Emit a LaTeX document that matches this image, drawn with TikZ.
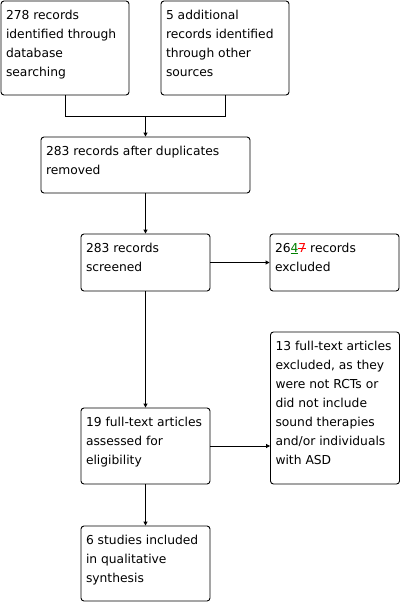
\documentclass[tikz,border=0pt]{standalone}
\usepackage{fontspec}
\setmainfont{DejaVu Sans}
\usetikzlibrary{arrows.meta}
\definecolor{insgreen}{RGB}{0,128,0}
\definecolor{delred}{RGB}{255,0,0}
\newcommand{\bxtext}[3]{\parbox[c][#2][t]{#1}{\raggedright\fontsize{12.3pt}{19pt}\selectfont\rule{0pt}{18pt}#3}}
\newcommand{\strk}[1]{\sbox0{#1}\rlap{#1}\rule[0.38\ht0]{\wd0}{0.7pt}}
\begin{document}
\begin{tikzpicture}[x=1pt,y=-1pt,
  box/.style={draw=black,line width=0.9pt,rounded corners=3pt,inner xsep=5pt,inner ysep=0pt,fill=white},
  conn/.style={draw=black,line width=0.9pt},
  arr/.style={conn,-{Triangle[length=4pt,width=4pt]}}]
\useasboundingbox (0,0) rectangle (400,602);
\fill[white] (0,0) rectangle (400,602);
\node[box] (b1) at (65,48) {\bxtext{118pt}{94pt}{278 records\\identified through\\database\\searching}};
\node[box] (b2) at (225,48) {\bxtext{118pt}{94pt}{5 additional\\records identified\\through other\\sources}};
\node[box] (b3) at (145.5,165) {\bxtext{199pt}{56pt}{283 records after duplicates\\removed}};
\node[box] (b4) at (145.5,262.5) {\bxtext{119pt}{57pt}{283 records\\screened}};
\node[box] (b5) at (334.5,262.5) {\bxtext{119pt}{57pt}{26\textcolor{insgreen}{\underline{4}}\textcolor{delred}{\strk{7}} records\\excluded}};
\node[box] (b6) at (145.5,446) {\bxtext{119pt}{76pt}{19 full-text articles\\assessed for\\eligibility}};
\node[box] (b7) at (335,408) {\bxtext{119pt}{152pt}{13 full-text articles\\excluded, as they\\were not RCTs or\\did not include\\sound therapies\\and/or individuals\\with ASD}};
\node[box] (b8) at (145.5,563.5) {\bxtext{119pt}{75pt}{6 studies included\\in qualitative\\synthesis}};
\coordinate (j) at (145.5,116);
\draw[conn] (b1.south) |- (j);
\draw[conn] (b2.south) |- (j);
\draw[arr] (j) -- (b3.north);
\draw[arr] (b3.south) -- (b4.north);
\draw[arr] (b4.east) -- (b5.west);
\draw[arr] (b4.south) -- (b6.north);
\draw[arr] (b6.east) -- (b6.east -| b7.west);
\draw[arr] (b6.south) -- (b8.north);
\end{tikzpicture}
\end{document}
